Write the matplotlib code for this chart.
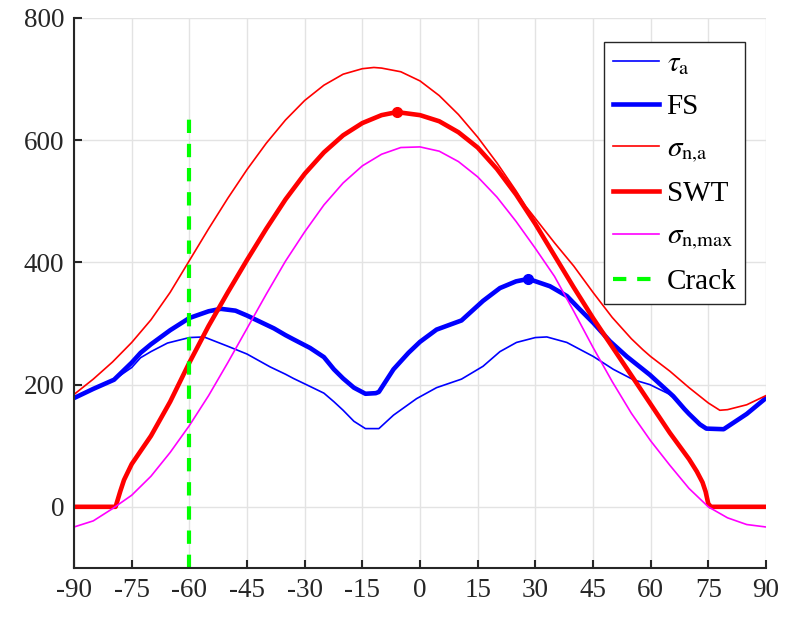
import matplotlib
matplotlib.use("Agg")
import matplotlib.pyplot as plt

plt.rcParams['font.family'] = ['Liberation Serif', 'DejaVu Serif']
plt.rcParams['mathtext.fontset'] = 'stix'
plt.rcParams['axes.unicode_minus'] = False

# Shear stress amplitude on the critical plane
tau_x = [-90, -85, -79.6, -75, -72.7, -70, -65.7, -60, -56.2, -50.1, -45, -39, -35, -32.9,
         -28.6, -25, -22.4, -20, -17.2, -14.2, -10.7, -6.9, -0.9, 4.3, 10.8, 16.4, 20.8,
         25.1, 30, 33, 38.2, 45.1, 50.3, 55.5, 59.8, 65, 68, 70, 72.8, 74.5, 79, 85, 90]
tau_a = [178, 192, 208, 228, 244, 254, 268, 277, 278, 263, 250, 229, 217, 210,
         197, 186, 172, 158, 140, 128, 128, 150, 177, 195, 209, 230, 254,
         269, 277, 278, 269, 246, 225, 208, 200, 184, 166, 152, 135, 128, 127, 152, 178]

# Fatemi-Socie parameter
fs_x = [-90, -85, -79.6, -75, -72.7, -70, -65, -60, -55, -51.8, -48, -45, -40, -38, -35,
        -32.9, -28.6, -25, -22.4, -20, -17.2, -14.2, -11.5, -10.7, -6.9, -3, 0, 4.3, 10.8,
        16.4, 20.8, 25, 28.2, 33.8, 38.2, 41.6, 45.1, 49.4, 53.8, 59.8, 65.9, 68.8, 70,
        72.8, 74.5, 79, 85, 90]
fs = [178, 193, 208, 236, 252, 266, 289, 309, 320, 324, 321, 313, 298, 292, 281,
      274, 260, 245, 225, 210, 195, 185, 186, 188, 225, 252, 270, 290, 305,
      337, 358, 369, 373, 361, 345, 323, 301, 271, 246, 216, 181, 160, 152,
      135, 128, 127, 152, 178]

# Normal stress amplitude
sna_x = [-90, -85, -80, -75, -70, -65, -60, -55, -50, -45, -40, -35, -30, -25, -20, -15,
         -12, -10, -5, 0, 5, 10, 15, 20, 25, 27.5, 30, 35, 40, 45, 50, 55, 58, 60, 65,
         70, 75, 78, 80, 85, 90]
sigma_na = [184, 209, 237, 269, 306, 351, 403, 455, 505, 552, 595, 633, 665, 690, 708, 717,
            719, 718, 712, 697, 673, 642, 605, 563, 517, 492, 472, 432, 394, 351, 310, 275,
            257, 246, 222, 195, 170, 158, 159, 167, 182]

# Smith-Watson-Topper parameter
swt_x = [-90, -85, -79.2, -78, -77, -75, -70, -65, -60, -55, -50, -45, -40, -35, -30, -25,
         -20, -15, -10, -6, 0, 5, 10, 15, 20, 25, 30, 35, 40, 45, 50, 55, 60, 65, 70,
         72, 73.5, 74.3, 75, 75.7, 80, 85, 90]
swt = [0, 0, 0, 25, 44, 70, 116, 172, 236, 296, 351, 404, 455, 503, 545, 580,
       608, 628, 641, 646, 641, 631, 613, 588, 553, 511, 463, 411, 359, 309, 262, 215,
       168, 121, 78, 58, 40, 25, 5, 0, 0, 0, 0]

# Maximum normal stress
snm_x = [-90, -85, -80, -75, -70, -65, -60, -55, -50, -45, -40, -35, -30, -25, -20, -15,
         -10, -5, 0, 5, 10, 15, 20, 25, 30, 35, 40, 45, 50, 55, 60, 65, 70, 75, 80, 85, 90]
sigma_nmax = [-33, -23, -3, 19, 50, 89, 133, 182, 236, 292, 348, 402, 450, 494, 530, 558,
              577, 588, 589, 582, 565, 540, 507, 467, 423, 377, 320, 261, 205, 153, 108, 68,
              30, 0, -18, -29, -33]

# Observed crack orientation and the maxima of each parameter
crack_angle = -60
crack_span = [-100, 635]
fs_peak = (28.2, 373)
swt_peak = (-6, 646)

x_ticks = list(range(-90, 91, 15))
y_ticks = [0, 200, 400, 600, 800]

fig = plt.figure(figsize=(7.88, 6.20), dpi=100)
ax = fig.add_axes([0.094, 0.084, 0.878, 0.887])

ax.plot(tau_x, tau_a, color='#0000ff', lw=1.2, label=r'$\tau_{\mathrm{a}}$')
ax.plot(fs_x, fs, color='#0000ff', lw=3.3, label='FS')
ax.plot(sna_x, sigma_na, color='#ff0000', lw=1.2, label=r'$\sigma_{\mathrm{n{,}a}}$')
ax.plot(swt_x, swt, color='#ff0000', lw=3.3, label='SWT')
ax.plot(snm_x, sigma_nmax, color='#ff00ff', lw=1.2, label=r'$\sigma_{\mathrm{n{,}max}}$')
ax.plot([crack_angle, crack_angle], crack_span, color='#00ff00', lw=3.0,
        ls=(0, (3.2, 2.6)), label='Crack')
ax.plot(*fs_peak, 'o', color='#0000ff', ms=7)
ax.plot(*swt_peak, 'o', color='#ff0000', ms=7)

ax.set_xlim(-90, 90)
ax.set_ylim(-100, 800)
ax.set_xticks(x_ticks)
ax.set_yticks(y_ticks)
ax.grid(True, color='#e3e3e3', lw=1.0)
ax.set_axisbelow(True)
for side in ('top', 'right'):
    ax.spines[side].set_visible(False)
for side in ('left', 'bottom'):
    ax.spines[side].set_color('#262626')
    ax.spines[side].set_linewidth(1.5)
ax.tick_params(direction='in', length=5.5, width=1.5, color='#262626',
               labelsize=19.5, labelcolor='#262626', pad=7)

leg = ax.legend(loc='upper right', bbox_to_anchor=(0.9697, 0.956), fontsize=21,
                frameon=True, fancybox=False, framealpha=1, edgecolor='#262626',
                handlelength=1.6, handletextpad=0.25, labelspacing=0.55,
                borderpad=0.3, borderaxespad=0.0)
leg.get_frame().set_linewidth(1.0)

fig.savefig('out.png', dpi=100)
